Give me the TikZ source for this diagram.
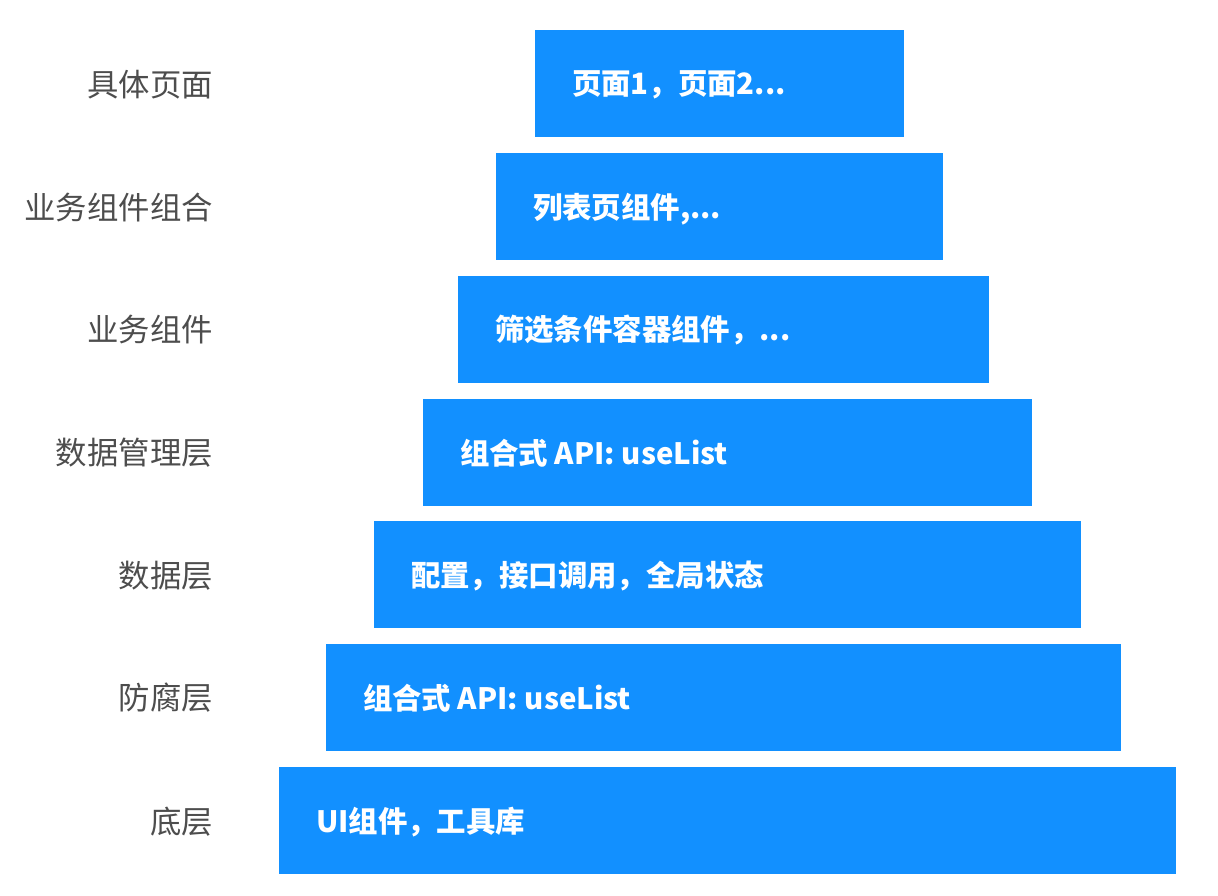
\documentclass[tikz,border=0pt]{standalone}
\usepackage{fontspec}
\setmainfont{Noto Sans CJK SC}
\usepackage{tikz}

\definecolor{layerblue}{HTML}{1290FF}
\definecolor{labelgray}{HTML}{4D4D4D}

\tikzset{
  layerbox/.style={fill=layerblue, draw=none, inner sep=0pt, minimum height=107pt},
  boxtext/.style={text=white, font=\fontsize{29.4}{34}\selectfont\bfseries, inner sep=0pt, anchor=west},
  sidelabel/.style={text=labelgray, font=\fontsize{31.4}{36}\selectfont, inner sep=0pt, anchor=east}
}

\begin{document}
\begin{tikzpicture}[x=1pt,y=-1pt]
  \useasboundingbox (0,0) rectangle (1218,896);
  \node[layerbox, minimum width=369pt] (page) at (719.5,83.5) {};
  \node[layerbox, minimum width=447pt] (combo) at (719.5,206.5) {};
  \node[layerbox, minimum width=531pt] (biz) at (723.5,329.5) {};
  \node[layerbox, minimum width=609pt] (manage) at (727.5,452.5) {};
  \node[layerbox, minimum width=707pt] (data) at (727.5,574.5) {};
  \node[layerbox, minimum width=795pt] (anti) at (723.5,697) {};
  \node[layerbox, minimum width=897pt] (base) at (727.5,820) {};

  \node[boxtext] (pagetxt) at ([xshift=37pt,yshift=-1.5pt]page.west) {页面1，页面2...};
  \node[boxtext] (combotxt) at ([xshift=37pt,yshift=-3pt]combo.west) {列表页组件,...};
  \node[boxtext] (biztxt) at ([xshift=37pt,yshift=-1pt]biz.west) {筛选条件容器组件，...};
  \node[boxtext] (managetxt) at ([xshift=37pt,yshift=-1pt]manage.west) {组合式 API: useList};
  \node[boxtext] (datatxt) at ([xshift=37pt,yshift=-1.5pt]data.west) {配置，接口调用，全局状态};
  \node[boxtext] (antitxt) at ([xshift=37pt,yshift=-1pt]anti.west) {组合式 API: useList};
  \node[boxtext] (basetxt) at ([xshift=37pt,yshift=-2pt]base.west) {UI组件，工具库};

  \node[sidelabel] (pagelbl) at (213,85) {具体页面};
  \node[sidelabel] (combolbl) at (213,208) {业务组件组合};
  \node[sidelabel] (bizlbl) at (213,330) {业务组件};
  \node[sidelabel] (managelbl) at (213,453) {数据管理层};
  \node[sidelabel] (datalbl) at (213,576) {数据层};
  \node[sidelabel] (antilbl) at (213,698) {防腐层};
  \node[sidelabel] (baselbl) at (213,822) {底层};
\end{tikzpicture}
\end{document}
